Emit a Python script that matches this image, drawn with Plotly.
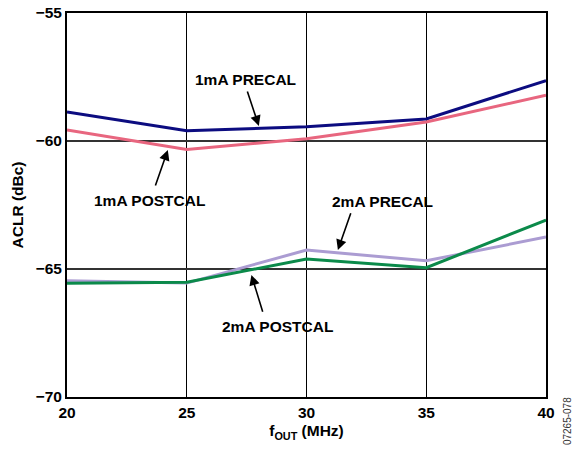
import plotly.graph_objects as go

freq = [20, 25, 30, 35, 40]
pre_1ma = [-58.87, -59.60, -59.44, -59.14, -57.64]
post_1ma = [-59.57, -60.33, -59.91, -59.26, -58.21]
pre_2ma = [-65.46, -65.55, -64.26, -64.68, -63.75]
post_2ma = [-65.56, -65.52, -64.61, -64.95, -63.09]

series = [
    ("1mA PRECAL", pre_1ma, "#0c0c80"),
    ("1mA POSTCAL", post_1ma, "#e8667f"),
    ("2mA PRECAL", pre_2ma, "#ab9cd2"),
    ("2mA POSTCAL", post_2ma, "#0b8a4a"),
]

FONT = "Liberation Sans, Arial, sans-serif"
FS = 15.5

fig = go.Figure()
for name, ys, col in series:
    fig.add_trace(go.Scatter(x=freq, y=ys, mode="lines", name=name,
                             line=dict(color=col, width=3)))

labels = [
    ("1mA PRECAL", 27.46, -57.58, 27.51, -58.01, 28.01, -59.41),
    ("1mA POSTCAL", 23.46, -62.34, 23.67, -61.80, 24.21, -60.35),
    ("2mA PRECAL", 33.18, -62.37, 31.87, -62.76, 31.31, -64.26),
    ("2mA POSTCAL", 28.80, -67.23, 28.19, -66.73, 27.70, -65.23),
]
for text, tx, ty, ax, ay, hx, hy in labels:
    fig.add_annotation(x=tx, y=ty, text=text, showarrow=False,
                       font=dict(family=FONT, size=FS, color="black", weight="bold"))
    fig.add_annotation(x=hx, y=hy, ax=ax, ay=ay, xref="x", yref="y",
                       axref="x", ayref="y", text="", showarrow=True,
                       arrowhead=2, arrowsize=1.3, arrowwidth=1.6, arrowcolor="black")

fig.add_annotation(x=1.044, y=-0.0625, xref="paper", yref="paper", text="07265-078",
                   textangle=-90, showarrow=False, xanchor="center", yanchor="middle",
                   font=dict(family=FONT, size=10, color="#333333"))

fig.update_layout(
    width=583, height=451,
    margin=dict(l=67, r=37, t=13, b=54),
    paper_bgcolor="white", plot_bgcolor="white",
    showlegend=False,
    font=dict(family=FONT, size=FS, color="black"),
)
fig.update_xaxes(range=[20, 40], tickvals=[20, 25, 30, 35, 40],
                 showgrid=True, gridcolor="black", gridwidth=1,
                 showline=True, linecolor="black", linewidth=2, mirror=True,
                 ticks="", zeroline=False, automargin=False,
                 ticklabeloverflow="allow",
                 tickfont=dict(family=FONT, size=FS, weight="bold"),
                 title=dict(text="f<sub>OUT</sub> (MHz)", standoff=6,
                            font=dict(family=FONT, size=FS, weight="bold")))
fig.update_yaxes(range=[-70, -55], tickvals=[-70, -65, -60, -55],
                 showgrid=True, gridcolor="#333333", gridwidth=1.5,
                 showline=True, linecolor="black", linewidth=2, mirror=True,
                 ticks="", zeroline=False, automargin=False,
                 ticklabeloverflow="allow",
                 tickfont=dict(family=FONT, size=FS, weight="bold"),
                 title=dict(text="ACLR (dBc)", standoff=8,
                            font=dict(family=FONT, size=FS, weight="bold")))

fig.write_html("out.html", config={"displayModeBar": False},
               post_script="document.body.style.margin='0';")
